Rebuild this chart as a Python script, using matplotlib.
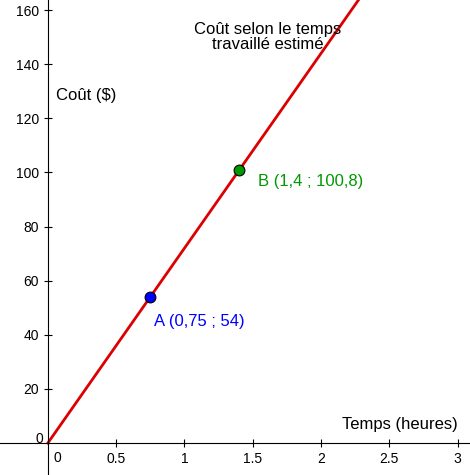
import matplotlib
matplotlib.use('Agg')
import matplotlib.pyplot as plt

plt.rcParams['font.family'] = ['Liberation Sans', 'DejaVu Sans']

# slope of cost line ($ per hour)
rate = 72
line_x = [0, 2.5]
pt_x = [0.75, 1.4]
pt_y = [54, 100.8]
pt_colors = ['#0000ff', '#009900']
pt_labels = ['A (0,75 ; 54)', 'B (1,4 ; 100,8)']
xticks = [0.5, 1, 1.5, 2, 2.5, 3]
xtick_labels = ['0.5', '1', '1.5', '2', '2.5', '3']
yticks = [20, 40, 60, 80, 100, 120, 140, 160]

fig = plt.figure(figsize=(4.7, 4.75), dpi=100)
ax = fig.add_axes([0, 0, 1, 1])
ax.set_xlim(-0.35, 3.09)
ax.set_ylim(-11.8, 163.7)

ax.plot(line_x, [rate * v for v in line_x], color='#dd0000', lw=2)
offsets = [(0.03, -9), (0.14, -4)]
for x, y, c, lab, (dx, dy) in zip(pt_x, pt_y, pt_colors, pt_labels, offsets):
    ax.scatter([x], [y], s=60, color=c, edgecolors='black', linewidths=0.8, zorder=3)
    ax.text(x + dx, y + dy, lab, color=c, fontsize=12, ha='left', va='center')

for s in ['top', 'right']:
    ax.spines[s].set_visible(False)
ax.spines['left'].set_position(('data', 0))
ax.spines['bottom'].set_position(('data', 0))
ax.set_xticks(xticks, xtick_labels)
ax.set_yticks(yticks)
ax.tick_params(direction='inout', length=6, labelsize=10)
ax.text(0.07, -3, '0', fontsize=10, ha='center', va='top')
ax.text(-0.03, 1.5, '0', fontsize=10, ha='right', va='center')

ax.text(3.0, 4, 'Temps (heures)', fontsize=12, ha='right', va='bottom')
ax.text(0.06, 128.5, 'Coût ($)', fontsize=12, ha='left', va='center')
ax.text(1.61, 150, 'Coût selon le temps\ntravaillé estimé', fontsize=12,
        ha='center', va='center', linespacing=1.0)

fig.savefig('out.png', dpi=100)
